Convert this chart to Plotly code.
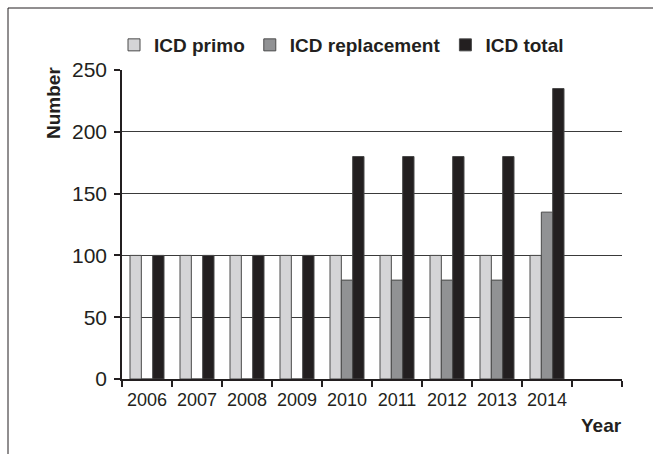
import plotly.graph_objects as go

years = ["2006", "2007", "2008", "2009", "2010", "2011", "2012", "2013", "2014", " "]
icd_primo = [100, 100, 100, 100, 100, 100, 100, 100, 100, None]
icd_replacement = [0, 0, 0, 0, 80, 80, 80, 80, 135, None]
icd_total = [100, 100, 100, 100, 180, 180, 180, 180, 235, None]

series = [
    ("ICD primo", icd_primo, "#d4d4d6"),
    ("ICD replacement", icd_replacement, "#919294"),
    ("ICD total", icd_total, "#231f20"),
]

fig = go.Figure()
for name, vals, col in series:
    fig.add_trace(go.Bar(
        x=years, y=vals, name=name,
        marker=dict(color=col, line=dict(color="#4a4a4a", width=1)),
    ))

W, H = 653, 454
L, R, T, B = 122, 31, 70, 75
pw, ph = W - L - R, H - T - B

def px_x(p):
    return (p - L) / pw

def px_y(p):
    return (H - B - p) / ph

font_main = "Liberation Sans, Arial, sans-serif"
ink = "#231f20"

fig.update_layout(
    width=W, height=H,
    margin=dict(l=L, r=R, t=T, b=B),
    paper_bgcolor="white", plot_bgcolor="white",
    barmode="group", bargap=0.32, bargroupgap=0,
    font=dict(family=font_main, size=18, color=ink),
    showlegend=True,
    legend=dict(
        orientation="h", x=px_x(114), y=px_y(45), xanchor="left", yanchor="middle",
        font=dict(family=font_main, size=19, color=ink, weight="bold"),
        itemwidth=30, tracegroupgap=0, bgcolor="rgba(0,0,0,0)",
    ),
    xaxis=dict(
        type="category", showgrid=False, showline=True, linecolor=ink, linewidth=1.5,
        ticks="outside", tickson="boundaries", ticklen=6, tickcolor=ink, tickwidth=1.5,
        tickfont=dict(size=18), range=[-0.5, 9.5], ticklabelstandoff=4,
    ),
    yaxis=dict(
        range=[0, 250], tickvals=[0, 50, 100, 150, 200, 250], showgrid=True,
        gridcolor="#3a3a3a", gridwidth=1, showline=True, linecolor=ink, linewidth=1.5,
        ticks="outside", ticklen=6, tickcolor=ink, tickwidth=1.5,
        tickfont=dict(size=21), zeroline=False, ticklabelstandoff=3,
    ),
    shapes=[dict(
        type="rect", xref="paper", yref="paper",
        x0=px_x(8), x1=px_x(680), y0=px_y(480), y1=px_y(8),
        line=dict(color=ink, width=1), fillcolor="rgba(0,0,0,0)", layer="below",
    )],
    annotations=[
        dict(text="<b>Number</b>", textangle=-90, xref="paper", yref="paper",
             x=px_x(53), y=px_y(65), xanchor="center", yanchor="top", showarrow=False,
             font=dict(family=font_main, size=19)),
        dict(text="<b>Year</b>", xref="paper", yref="paper",
             x=px_x(624), y=px_y(425), xanchor="right", yanchor="middle", showarrow=False,
             font=dict(family=font_main, size=19)),
    ],
)

fig.write_html("out.html")
